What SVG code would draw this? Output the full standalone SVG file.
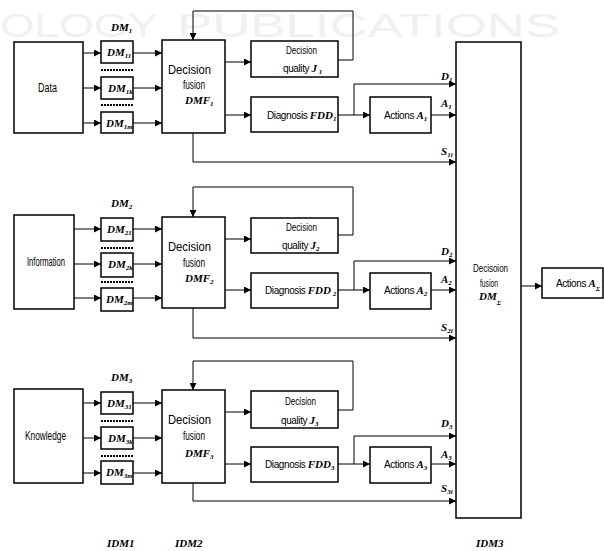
<svg xmlns="http://www.w3.org/2000/svg" width="604" height="551" viewBox="0 0 604 551">
<defs>
<marker id="ah" markerUnits="userSpaceOnUse" markerWidth="7" markerHeight="7" refX="7" refY="3.5" orient="auto">
<path d="M0,0 L7,3.5 L0,7 z" fill="#000"/>
</marker>
<style>
.box{fill:#fff;stroke:#000;stroke-width:1.5}
.ln{fill:none;stroke:#000;stroke-width:1;marker-end:url(#ah)}
.dash{stroke:#000;stroke-width:2;stroke-dasharray:2,1}
.s{font-family:"Liberation Sans",Arial,sans-serif;font-size:11px;fill:#000}
.a{font-family:"Liberation Sans",Arial,sans-serif;font-size:10px;letter-spacing:-0.4px;fill:#000}
.b{font-family:"Liberation Sans",Arial,sans-serif;font-size:12px;fill:#000}
.m{font-family:"Liberation Serif","Times New Roman",serif;font-style:italic;font-weight:bold;font-size:11px;letter-spacing:0;fill:#000}
.mb{font-family:"Liberation Serif","Times New Roman",serif;font-style:italic;font-weight:bold;font-size:11px;fill:#000}
.sub{font-size:7px}
.wm{font-family:"Liberation Sans",Arial,sans-serif;font-size:34px;fill:#f0f0f0}
</style>
</defs>
<rect width="604" height="551" fill="#fff"/>
<g id="watermark">
<text class="wm" x="0" y="37" textLength="158" lengthAdjust="spacingAndGlyphs">OLOGY</text>
<text class="wm" x="177" y="37" textLength="383" lengthAdjust="spacingAndGlyphs">PUBLICATIONS</text>
</g>

<g id="connectors">
<line class="ln" x1="83" y1="53" x2="101" y2="53"/>
<line class="ln" x1="83" y1="88" x2="101" y2="88"/>
<line class="ln" x1="83" y1="123" x2="101" y2="123"/>
<line class="ln" x1="133" y1="53" x2="162" y2="53"/>
<line class="ln" x1="133" y1="88" x2="162" y2="88"/>
<line class="ln" x1="133" y1="123" x2="162" y2="123"/>
<line class="ln" x1="225" y1="62" x2="251" y2="62"/>
<line class="ln" x1="225" y1="115" x2="251" y2="115"/>
<polyline class="ln" points="338,60 353,60 353,11 193,11 193,40"/>
<line class="ln" x1="338" y1="115" x2="370" y2="115"/>
<polyline class="ln" points="354,115 354,84 456,84"/>
<line class="ln" x1="431" y1="115" x2="456" y2="115"/>
<polyline class="ln" points="193,133 193,162 456,162"/>
<line class="ln" x1="74" y1="229" x2="101" y2="229"/>
<line class="ln" x1="74" y1="264" x2="101" y2="264"/>
<line class="ln" x1="74" y1="298" x2="101" y2="298"/>
<line class="ln" x1="133" y1="229" x2="162" y2="229"/>
<line class="ln" x1="133" y1="264" x2="162" y2="264"/>
<line class="ln" x1="133" y1="298" x2="162" y2="298"/>
<line class="ln" x1="225" y1="239" x2="251" y2="239"/>
<line class="ln" x1="225" y1="290" x2="251" y2="290"/>
<polyline class="ln" points="338,235 353,235 353,187 193,187 193,217"/>
<line class="ln" x1="338" y1="290" x2="370" y2="290"/>
<polyline class="ln" points="354,290 354,261 456,261"/>
<line class="ln" x1="431" y1="290" x2="456" y2="290"/>
<polyline class="ln" points="193,308 193,338 456,338"/>
<line class="ln" x1="83" y1="403" x2="101" y2="403"/>
<line class="ln" x1="83" y1="438" x2="101" y2="438"/>
<line class="ln" x1="83" y1="473" x2="101" y2="473"/>
<line class="ln" x1="133" y1="403" x2="162" y2="403"/>
<line class="ln" x1="133" y1="438" x2="162" y2="438"/>
<line class="ln" x1="133" y1="473" x2="162" y2="473"/>
<line class="ln" x1="225" y1="412" x2="251" y2="412"/>
<line class="ln" x1="225" y1="464" x2="251" y2="464"/>
<polyline class="ln" points="338,410 353,410 353,361 193,361 193,390"/>
<line class="ln" x1="338" y1="464" x2="370" y2="464"/>
<polyline class="ln" points="354,464 354,436 456,436"/>
<line class="ln" x1="431" y1="464" x2="456" y2="464"/>
<polyline class="ln" points="193,483 193,501 456,501"/>
<line class="ln" x1="521" y1="286" x2="542" y2="286"/>
<line class="dash" x1="101" y1="70" x2="133" y2="70"/>
<line class="dash" x1="101" y1="105" x2="133" y2="105"/>
<line class="dash" x1="101" y1="248" x2="133" y2="248"/>
<line class="dash" x1="101" y1="282" x2="133" y2="282"/>
<line class="dash" x1="101" y1="421" x2="133" y2="421"/>
<line class="dash" x1="101" y1="456" x2="133" y2="456"/>
</g>

<g id="data"><rect class="box" x="14" y="42" width="69" height="91"/>
<text class="b" x="38" y="92" textLength="19" lengthAdjust="spacingAndGlyphs">Data</text></g>
<g id="dm1-label"><text class="m" x="111" y="31">DM<tspan class="sub" dy="2">1</tspan></text></g>
<g id="dm11"><rect class="box" x="101" y="41" width="32" height="22"/>
<text class="mb" x="107" y="56">DM<tspan class="sub" dy="2">11</tspan></text></g>
<g id="dm1k"><rect class="box" x="101" y="77" width="32" height="22"/>
<text class="mb" x="108" y="92">DM<tspan class="sub" dy="2">1k</tspan></text></g>
<g id="dm1m"><rect class="box" x="101" y="112" width="32" height="21"/>
<text class="mb" x="106" y="127">DM<tspan class="sub" dy="2">1m</tspan></text></g>
<g id="dmf1"><rect class="box" x="162" y="40" width="63" height="93"/>
<text class="b" x="168" y="74" textLength="43" lengthAdjust="spacingAndGlyphs">Decision</text>
<text class="b" x="183" y="89" textLength="22" lengthAdjust="spacingAndGlyphs">fusion</text>
<text class="m" x="185" y="104">DMF<tspan class="sub" dy="2">1</tspan></text></g>
<g id="quality1"><rect class="box" x="251" y="41" width="87" height="36"/>
<text class="s" x="286" y="54" textLength="31" lengthAdjust="spacingAndGlyphs">Decision</text>
<text class="a" x="283" y="72">quality <tspan class="m">J<tspan class="sub" dy="2"> 1</tspan></tspan></text></g>
<g id="diag1"><rect class="box" x="251" y="97" width="87" height="35"/>
<text class="a" x="267" y="119">Diagnosis <tspan class="m">FDD<tspan class="sub" dy="2">1</tspan></tspan></text></g>
<g id="act1"><rect class="box" x="370" y="97" width="61" height="36"/>
<text class="a" x="384" y="119">Actions <tspan class="m">A<tspan class="sub" dy="2">1</tspan></tspan></text></g>
<g id="labels1">
<text class="m" x="441" y="80">D<tspan class="sub" dy="2">1</tspan></text>
<text class="m" x="441" y="107">A<tspan class="sub" dy="2">1</tspan></text>
<text class="m" x="441" y="155">S<tspan class="sub" dy="2">1i</tspan></text>
</g>

<g id="information"><rect class="box" x="14" y="215" width="60" height="94"/>
<text class="b" x="27" y="266" textLength="38" lengthAdjust="spacingAndGlyphs">Information</text></g>
<g id="dm2-label"><text class="m" x="111" y="207">DM<tspan class="sub" dy="2">2</tspan></text></g>
<g id="dm21"><rect class="box" x="101" y="218" width="32" height="23"/>
<text class="mb" x="107" y="233">DM<tspan class="sub" dy="2">21</tspan></text></g>
<g id="dm2k"><rect class="box" x="101" y="253" width="32" height="24"/>
<text class="mb" x="108" y="268">DM<tspan class="sub" dy="2">2k</tspan></text></g>
<g id="dm2m"><rect class="box" x="101" y="288" width="32" height="23"/>
<text class="mb" x="106" y="303">DM<tspan class="sub" dy="2">2m</tspan></text></g>
<g id="dmf2"><rect class="box" x="162" y="217" width="63" height="91"/>
<text class="b" x="168" y="251" textLength="43" lengthAdjust="spacingAndGlyphs">Decision</text>
<text class="b" x="183" y="267" textLength="22" lengthAdjust="spacingAndGlyphs">fusion</text>
<text class="m" x="185" y="282">DMF<tspan class="sub" dy="2">2</tspan></text></g>
<g id="quality2"><rect class="box" x="251" y="218" width="87" height="35"/>
<text class="s" x="286" y="231" textLength="31" lengthAdjust="spacingAndGlyphs">Decision</text>
<text class="a" x="282" y="249">quality  <tspan class="m">J<tspan class="sub" dy="2">2</tspan></tspan></text></g>
<g id="diag2"><rect class="box" x="251" y="273" width="87" height="35"/>
<text class="a" x="265" y="294">Diagnosis <tspan class="m">FDD<tspan class="sub" dy="2"> 2</tspan></tspan></text></g>
<g id="act2"><rect class="box" x="370" y="273" width="61" height="36"/>
<text class="a" x="384" y="294">Actions <tspan class="m">A<tspan class="sub" dy="2">2</tspan></tspan></text></g>
<g id="labels2">
<text class="m" x="441" y="255">D<tspan class="sub" dy="2">2</tspan></text>
<text class="m" x="441" y="283">A<tspan class="sub" dy="2">2</tspan></text>
<text class="m" x="441" y="331">S<tspan class="sub" dy="2">2i</tspan></text>
</g>

<g id="knowledge"><rect class="box" x="14" y="389" width="69" height="94"/>
<text class="b" x="25" y="440" textLength="41" lengthAdjust="spacingAndGlyphs">Knowledge</text></g>
<g id="dm3-label"><text class="m" x="111" y="381">DM<tspan class="sub" dy="2">3</tspan></text></g>
<g id="dm31"><rect class="box" x="101" y="392" width="32" height="22"/>
<text class="mb" x="107" y="407">DM<tspan class="sub" dy="2">31</tspan></text></g>
<g id="dm3k"><rect class="box" x="101" y="427" width="32" height="22"/>
<text class="mb" x="108" y="442">DM<tspan class="sub" dy="2">3k</tspan></text></g>
<g id="dm3m"><rect class="box" x="101" y="461" width="32" height="23"/>
<text class="mb" x="106" y="476">DM<tspan class="sub" dy="2">3m</tspan></text></g>
<g id="dmf3"><rect class="box" x="162" y="390" width="63" height="93"/>
<text class="b" x="168" y="424" textLength="43" lengthAdjust="spacingAndGlyphs">Decision</text>
<text class="b" x="183" y="440" textLength="22" lengthAdjust="spacingAndGlyphs">fusion</text>
<text class="m" x="185" y="457">DMF<tspan class="sub" dy="2">3</tspan></text></g>
<g id="quality3"><rect class="box" x="251" y="391" width="87" height="37"/>
<text class="s" x="285" y="405" textLength="31" lengthAdjust="spacingAndGlyphs">Decision</text>
<text class="a" x="281" y="424">quality  <tspan class="m">J<tspan class="sub" dy="2">3</tspan></tspan></text></g>
<g id="diag3"><rect class="box" x="251" y="447" width="87" height="35"/>
<text class="a" x="265" y="468">Diagnosis <tspan class="m">FDD<tspan class="sub" dy="2">3</tspan></tspan></text></g>
<g id="act3"><rect class="box" x="370" y="447" width="61" height="36"/>
<text class="a" x="384" y="468">Actions <tspan class="m">A<tspan class="sub" dy="2">3</tspan></tspan></text></g>
<g id="labels3">
<text class="m" x="441" y="427">D<tspan class="sub" dy="2">3</tspan></text>
<text class="m" x="441" y="458">A<tspan class="sub" dy="2">3</tspan></text>
<text class="m" x="441" y="492">S<tspan class="sub" dy="2">3i</tspan></text>
</g>

<g id="dm-sigma"><rect class="box" x="456" y="42" width="65" height="476"/>
<text class="s" x="473" y="272" textLength="35" lengthAdjust="spacingAndGlyphs">Decisoion</text>
<text class="s" x="480" y="287" textLength="18" lengthAdjust="spacingAndGlyphs">fusion</text>
<text class="m" x="479" y="300">DM<tspan class="sub" dy="5">Σ</tspan></text></g>
<g id="act-sigma"><rect class="box" x="542" y="268" width="61" height="30"/>
<text class="a" x="556" y="287">Actions <tspan class="m">A<tspan class="sub" dy="4">Σ</tspan></tspan></text></g>

<g id="idm-labels">
<text class="m" x="107" y="547">IDM1</text>
<text class="m" x="175" y="547">IDM2</text>
<text class="m" x="476" y="547">IDM3</text>
</g>
</svg>
